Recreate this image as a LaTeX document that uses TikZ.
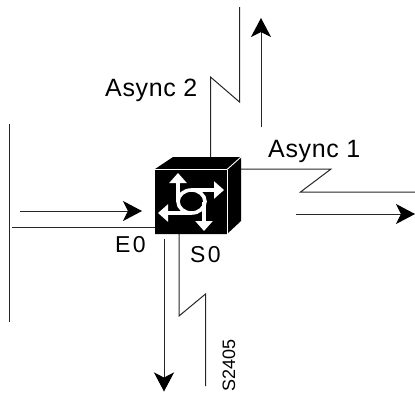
\documentclass[tikz,border=0pt]{standalone}
\usepackage{fontspec}
\setmainfont{Liberation Sans}
\usetikzlibrary{arrows.meta, positioning, calc}
\tikzset{
    link/.style={line width=1pt, black!85},
    flow/.style={line width=1pt, black!85, -{Stealth[length=19pt,width=20pt,inset=5pt,black]}},
    asynclabel/.style={inner sep=0pt, anchor=base west, font=\fontsize{25}{25}\selectfont\addfontfeatures{LetterSpace=2.5}},
    portlabel/.style={inner sep=0pt, anchor=base west, font=\fontsize{23}{23}\selectfont\addfontfeatures{LetterSpace=10}},
    icon/.style={white, line width=3.6pt},
    iconarrow/.style={icon, -{Triangle[length=10pt,width=17pt,white]}}
}

\begin{document}
\begin{tikzpicture}[x=1pt, y=-1pt]
\useasboundingbox (0,0) rectangle (415,392);

% Ends of the links
\coordinate (lanTop) at (9,124);
\coordinate (lanBottom) at (9,322);
\coordinate (lanEnd) at (12,227);
\coordinate (asyncTwoA) at (210.5,77);
\coordinate (asyncTwoB) at (239.5,102);
\coordinate (asyncTwoEnd) at (239.5,7);
\coordinate (asyncOneA) at (331,169);
\coordinate (asyncOneB) at (300.5,192);
\coordinate (asyncOneEnd) at (415,192);
\coordinate (serialA) at (179,316);
\coordinate (serialB) at (205.5,294);
\coordinate (serialEnd) at (205.5,386);

% Links
\draw[link] (lanTop) -- (lanBottom);
\draw[link] (lanEnd) -- (155,227) coordinate (lanPort);
\draw[link] (210.5,160) coordinate (asyncTwoPort) -- (asyncTwoA) -- (asyncTwoB) -- (asyncTwoEnd);
\draw[link] (238,169) coordinate (asyncOnePort) -- (asyncOneA) -- (asyncOneB) -- (asyncOneEnd);
\draw[link] (179,232) coordinate (serialPort) -- (serialA) -- (serialB) -- (serialEnd);

% Traffic arrows
\coordinate (inStart) at (20,211);
\coordinate (inEnd) at (142,211);
\coordinate (upStart) at (261,127);
\coordinate (upEnd) at (261,18);
\coordinate (outStart) at (296,214);
\coordinate (outEnd) at (415,214);
\coordinate (downStart) at (164,239);
\coordinate (downEnd) at (164,391.5);
\draw[flow] (inStart) -- (inEnd);
\draw[flow] (upStart) -- (upEnd);
\draw[flow] (outStart) -- (outEnd);
\draw[flow] (downStart) -- (downEnd);

% Router box
\fill[black] (155,169) -- (173,157) -- (241,157) -- (241,221) -- (227,234) -- (155,234) -- cycle;
\draw[white, line width=0.9pt] (155,169.5) -- (227,169.5) -- (241,157);
\draw[white, line width=0.9pt] (227,169.5) -- (227,234);

% Router icon
\draw[icon] (191.5,201.5) ellipse (13.5 and 11.5);
\draw[iconarrow] (178,201.5) -- (178,173);
\draw[iconarrow] (191.5,190) -- (224,190);
\draw[iconarrow] (191.5,213) -- (158,213);
\draw[iconarrow] (204,201.5) -- (204,231);

% Labels
\node[asynclabel] (asyncTwoLabel) at (105,96) {Async 2};
\node[asynclabel] (asyncOneLabel) at (268,157) {Async 1};
\node[portlabel] (lanLabel) at (115,252) {E0};
\node[portlabel] (serialLabel) at (190,262) {S0};
\node[inner sep=0pt, anchor=base west, rotate=90, font=\fontsize{18}{18}\selectfont] (figLabel) at (235,391.5) {S2405};
\end{tikzpicture}
\end{document}
